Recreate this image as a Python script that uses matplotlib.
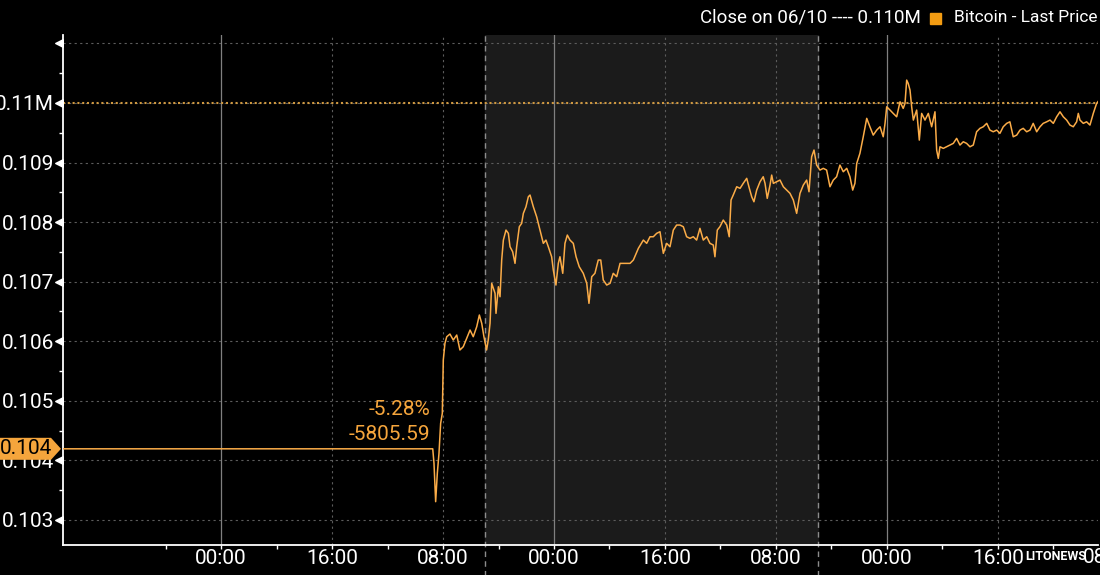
import matplotlib
matplotlib.use("Agg")
import matplotlib.pyplot as plt
import matplotlib.transforms as mtransforms
from matplotlib.patches import Polygon, Rectangle
import numpy as np

# hours after 06/11 08:00; the chart runs right-to-left (mirrored)
hours = [
    0.70, 0.89, 1.13, 1.37, 1.61, 1.85, 2.09, 2.21, 2.33, 2.57,
    2.81, 3.05, 3.29, 3.53, 3.77, 4.01, 4.25, 4.49, 4.74, 4.97,
    5.21, 5.46, 5.69, 5.93, 6.18, 6.41, 6.65, 6.90, 7.14, 7.37,
    7.62, 7.86, 8.09, 8.34, 8.58, 8.81, 9.06, 9.30, 9.54, 9.78,
    10.02, 10.26, 10.50, 10.74, 10.98, 11.22, 11.46, 11.70, 11.94, 12.18,
    12.30, 12.42, 12.54, 12.78, 13.02, 13.26, 13.50, 13.67, 13.86, 14.10,
    14.22, 14.34, 14.47, 14.58, 14.70, 14.83, 15.06, 15.30, 15.55, 15.78,
    16.02, 16.14, 16.27, 16.50, 16.74, 16.99, 17.23, 17.46, 17.71, 17.95,
    18.18, 18.31, 18.47, 18.67, 18.90, 19.15, 19.39, 19.63, 19.87, 20.11,
    20.35, 20.59, 20.83, 21.07, 21.26, 21.43, 21.62, 21.79, 22.03, 22.27,
    22.51, 22.75, 22.99, 23.23, 23.47, 23.71, 23.95, 24.19, 24.31, 24.43,
    24.63, 24.79, 24.92, 25.15, 25.39, 25.59, 25.75, 25.92, 26.11, 26.36,
    26.59, 26.83, 27.08, 27.24, 27.37, 27.55, 27.80, 28.04, 28.23, 28.40,
    28.52, 28.76, 28.99, 29.24, 29.48, 29.72, 29.96, 30.20, 30.44, 30.68,
    30.92, 31.16, 31.40, 31.64, 31.88, 32.12, 32.36, 32.60, 32.84, 33.08,
    33.32, 33.56, 33.92, 34.28, 34.52, 34.76, 35.24, 35.48, 35.73, 35.96,
    36.20, 36.45, 36.63, 36.81, 37.05, 37.28, 37.48, 37.64, 37.89, 38.18,
    38.41, 38.61, 38.85, 39.04, 39.21, 39.37, 39.57, 39.69, 39.86, 40.05,
    40.17, 40.41, 40.58, 40.77, 41.01, 41.25, 41.49, 41.73, 41.85, 42.02,
    42.21, 42.33, 42.50, 42.69, 42.81, 42.98, 43.17, 43.29, 43.46, 43.65,
    43.77, 43.89, 44.01, 44.18, 44.25, 44.49, 44.61, 44.74, 44.86, 45.05,
    45.21, 45.38, 45.57, 45.82, 46.05, 46.29, 46.54, 46.78, 47.01, 47.26,
    47.50, 47.73, 47.86, 47.98, 48.05, 48.17, 48.29, 48.41, 48.53, 48.65,
    48.74, 75.40,
]
# Bitcoin last price, USD
price = [
    110048, 109992, 109824, 109628, 109683, 109657, 109712, 109824, 109683, 109600,
    109628, 109712, 109767, 109851, 109767, 109657, 109712, 109683, 109657, 109600,
    109516, 109657, 109544, 109516, 109573, 109544, 109460, 109432, 109683, 109657,
    109600, 109489, 109544, 109516, 109544, 109657, 109600, 109573, 109516, 109293,
    109264, 109321, 109348, 109293, 109405, 109321, 109293, 109264, 109237, 109264,
    109069, 109209, 109851, 109600, 109824, 109712, 109824, 109376, 109880, 109712,
    109935, 110215, 110328, 110383, 109992, 109908, 110019, 109767, 109824, 109880,
    109935, 109657, 109432, 109600, 109544, 109460, 109600, 109741, 109432, 109153,
    108985, 108650, 108537, 108761, 108902, 108845, 108957, 108761, 108705, 108593,
    108873, 108902, 108873, 108957, 109209, 109096, 108509, 108705, 108621, 108482,
    108146, 108370, 108482, 108537, 108593, 108705, 108677, 108650, 108789, 108621,
    108398, 108650, 108761, 108677, 108537, 108341, 108425, 108566, 108734, 108650,
    108566, 108593, 108454, 108370, 107754, 107950, 108034, 107922, 107866, 107418,
    107615, 107643, 107754, 107698, 107895, 107698, 107754, 107727, 107754, 107922,
    107950, 107950, 107866, 107586, 107643, 107475, 107838, 107811, 107754, 107754,
    107643, 107698, 107559, 107363, 107307, 107307, 107307, 107083, 107140, 106972,
    106943, 107027, 107363, 107363, 107140, 107083, 106636, 106972, 107140, 107250,
    107418, 107643, 107698, 107782, 107643, 107140, 107418, 107307, 106943, 107195,
    107418, 107586, 107698, 107643, 107866, 108089, 108257, 108454, 108425, 108257,
    108146, 107979, 107922, 107586, 107307, 107502, 107586, 107811, 107866, 107698,
    107363, 106747, 106915, 106468, 106804, 106972, 106301, 106020, 105853, 106076,
    106301, 106440, 106244, 106076, 106188, 106049, 105908, 105853, 106104, 106020,
    106121, 106076, 105965, 105685, 104790, 104623, 104119, 103784, 103307, 103951,
    104194.41, 104194.41,
]
close_0610 = 110000.0

shade_span = (21.0, 45.0)
major_hours = [8, 16, 24, 32, 40, 48, 56, 64]
major_labels = ["16:00", "00:00", "08:00", "16:00", "00:00", "08:00", "16:00", "00:00"]
minor_hours = [4, 12, 20, 28, 36, 44, 52, 60, 68]
midnight_hours = [16, 40, 64]
ytick_vals = [0.103, 0.104, 0.105, 0.106, 0.107, 0.108, 0.109, 0.110, 0.111]
ytick_labels = ["0.103", "0.104", "0.105", "0.106", "0.107", "0.108", "0.109", "0.11M", ""]

LINE = "#fbac48"
ORANGE = "#f5a53c"
GRID = "#5c5c5c"
FS = 15

plt.rcParams["font.family"] = ["Roboto", "DejaVu Sans"]

W, H = 1100, 575
fig = plt.figure(figsize=(W / 100, H / 100), dpi=100, facecolor="black")
ax = fig.add_axes([63 / W, 1 - 545 / H, 1035 / W, 510 / H])
ax.set_facecolor("black")

ax.set_xlim(75.39, 0.79)
ax.set_ylim(0.10258, 0.11114)

# shaded session
ax.axvspan(*shade_span, color="#1b1b1b", zorder=0)
for s in shade_span:
    ax.axvline(s, ymin=-0.06, ymax=1.0, color="#8c8c8c", lw=1.0,
               ls=(0, (4, 3)), clip_on=False, zorder=1)

# grid
for v in ytick_vals:
    ax.axhline(v, color=GRID, lw=0.8, ls=(0, (2, 3)), zorder=1)
for h in major_hours:
    if h in midnight_hours:
        ax.axvline(h, color="#808080", lw=0.9, zorder=1)
    else:
        ax.axvline(h, color=GRID, lw=0.8, ls=(0, (2, 3)), zorder=1)

# previous close reference
ax.axhline(close_0610 / 1e6, color="#cf9840", lw=1.5, ls=(0, (1, 1.3)), zorder=2)

p = np.array(price) / 1e6
ax.plot(hours, p, color=LINE, lw=1.1, zorder=3)

# axes styling
for side in ["top", "right"]:
    ax.spines[side].set_visible(False)
for side in ["left", "bottom"]:
    ax.spines[side].set_color("white")
    ax.spines[side].set_linewidth(1.3)

ax.set_yticks(ytick_vals)
ax.set_yticklabels(ytick_labels)
ax.set_yticks(np.arange(0.1035, 0.111, 0.001), minor=True)
ax.tick_params(axis="y", which="major", length=0, pad=6.5, labelcolor="white", labelsize=FS)
ax.tick_params(axis="y", which="minor", length=3, width=1, color="white")

ax.set_xticks(major_hours)
ax.set_xticklabels(major_labels)
ax.set_xticks(minor_hours, minor=True)
ax.tick_params(axis="x", which="both", length=3, width=1, color="white", pad=0,
               labelcolor="white", labelsize=FS)

# arrow heads on major y ticks
ax.scatter(np.full(len(ytick_vals), -0.004), ytick_vals, marker="<", s=30,
           color="white", transform=ax.get_yaxis_transform(), clip_on=False, zorder=5)

# label of the tick just past the right edge
ax.annotate("08:00", xy=(0, 0), xycoords=ax.get_xaxis_transform(),
            xytext=(0, -2.2), textcoords="offset points", ha="center", va="top",
            color="white", fontsize=FS, annotation_clip=False)

# last price tag on the axis
last = price[-1]
fig.canvas.draw()
yc = ax.transData.transform((hours[0], last / 1e6))[1]
xs = ax.transAxes.transform((0, 0))[0]
tag = Polygon([(0, yc - 11), (xs - 12, yc - 11), (xs - 2, yc), (xs - 12, yc + 11), (0, yc + 11)],
              closed=True, facecolor=ORANGE, edgecolor="none",
              transform=mtransforms.IdentityTransform(), zorder=10)
fig.add_artist(tag)
fig.text(26 / W, yc / H, f"{last / 1e6:.3f}", color="black", fontsize=FS,
         ha="center", va="center", zorder=11)

# change annotation
chg = last - close_0610
pct = chg / close_0610 * 100
ax.annotate(f"{pct:.2f}%", xy=(hours[-2], last / 1e6), xytext=(-2, 28),
            textcoords="offset points", ha="right", va="center",
            color=ORANGE, fontsize=FS)
ax.annotate(f"{chg:.2f}", xy=(hours[-2], last / 1e6), xytext=(-2, 10),
            textcoords="offset points", ha="right", va="center",
            color=ORANGE, fontsize=FS)

# header legend
fig.text(921 / W, 1 - 18 / H, "Close on 06/10 ---- 0.110M", color="white",
         fontsize=13.5, ha="right", va="center")
fig.add_artist(Rectangle((930 / W, 1 - 24 / H), 11 / W, 11 / H, color="#f39c12",
                         transform=fig.transFigure))
fig.text(1097 / W, 1 - 18 / H, "Bitcoin - Last Price", color="white",
         fontsize=12.5, ha="right", va="center")

fig.text(1056 / W, 1 - 557 / H, "LITONEWS", color="white", fontsize=9,
         fontweight="bold", ha="center", va="center")

fig.savefig("out.png", dpi=100, facecolor="black")
